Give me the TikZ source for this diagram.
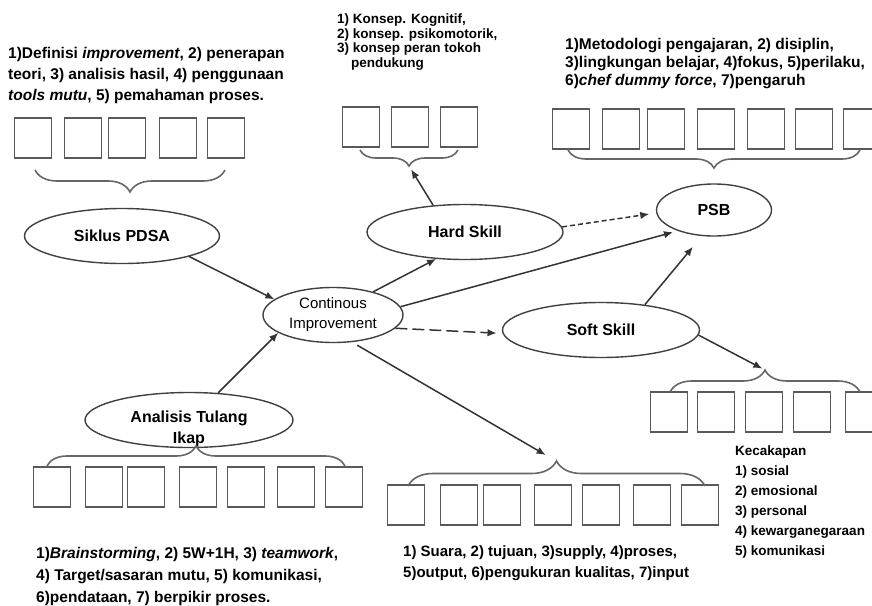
\documentclass[tikz,border=0pt]{standalone}
\usepackage{fontspec}
\setmainfont{Liberation Sans}
\usetikzlibrary{shapes.geometric,decorations.pathreplacing,arrows.meta}

\begin{document}
\begin{tikzpicture}[x=1pt,y=-1pt,
	elips/.style={draw=black!75,line width=1.4pt,ellipse,inner sep=0pt,font=\fontsize{16}{20}\selectfont\bfseries},
	kotak/.style={draw=black!65,line width=1.4pt,minimum width=37pt,minimum height=40pt,inner sep=0pt},
	kurung/.style={draw=black!60,line width=1.6pt,decorate,decoration={brace,amplitude=#1}},
	panah/.style={-{Latex[length=9pt,width=7.5pt]},draw=black!80,line width=1.5pt},
	teks/.style={anchor=north west,inner sep=0pt,align=left,font=\fontsize{15.5}{21}\selectfont\bfseries}]
		\useasboundingbox (0,0) rectangle (872,605);

		% ellipses
		\node[elips,minimum width=195pt,minimum height=55pt] (pdsa) at (122,236) {Siklus PDSA};
		\node[elips,minimum width=140pt,minimum height=55pt,font=\fontsize{15}{20}\selectfont,align=center] (ci) at (333,315) {Continous\\Improvement};
		\node[elips,minimum width=196pt,minimum height=55pt] (hard) at (465,232) {Hard Skill};
		\node[elips,minimum width=115pt,minimum height=52pt] (psb) at (714,210) {PSB};
		\node[elips,minimum width=197pt,minimum height=55pt] (soft) at (601,330) {Soft Skill};
		\node[elips,minimum width=208pt,minimum height=55pt] (tulang) at (189,420) {};
		\node[align=center,inner sep=0pt,font=\fontsize{16}{21}\selectfont\bfseries] (tulangteks) at (189,429) {Analisis Tulang\\Ikap};

		% boxes
		\foreach \x [count=\i] in {33,83,127,178,226}
			\node[kotak] (tl\i) at (\x,138) {};
		\foreach \x [count=\i] in {361,410,459}
			\node[kotak] (hs\i) at (\x,127) {};
		\foreach \x [count=\i] in {571,621,666,716,766,814,862}
			\node[kotak] (pb\i) at (\x,129) {};
		\foreach \x [count=\i] in {669,716,764,812,864}
			\node[kotak] (ss\i) at (\x,412) {};
		\foreach \x [count=\i] in {52,104,146,198,246,296,344}
			\node[kotak] (at\i) at (\x,487) {};
		\foreach \x [count=\i] in {406,459,502,553,601,652,700}
			\node[kotak] (ci\i) at (\x,505) {};

		% braces
		\draw[kurung=22pt] (225,170) -- (35,170);
		\draw[kurung=16pt] (458,150) -- (360,150);
		\draw[kurung=18pt] (860,150) -- (568,150);
		\draw[kurung=22pt] (670,392) -- (860,392);
		\draw[kurung=20pt] (47,466) -- (345,466);
		\draw[kurung=25pt] (408,486) -- (705,486);
		\coordinate (hstip) at (409,166);
		\coordinate (sstip) at (765,370);
		\coordinate (citip) at (556,461);

		% arrows
		\draw[panah] (pdsa.-17) -- (ci.165);
		\draw[panah] (tulang.43) -- (ci.198);
		\draw[panah] (ci.30) -- (hard.223);
		\draw[panah,shorten >=4pt] (hard.140) -- (hstip);
		\draw[panah,dash pattern=on 5pt off 3pt,shorten >=7pt] (hard.3) -- (psb.183);
		\draw[panah,shorten >=5pt] (ci.7) -- (psb.210);
		\draw[panah,dash pattern=on 12pt off 5pt,shorten >=6pt] (ci.-12) -- (soft.182);
		\draw[panah,shorten >=14pt] (soft.30) -- (psb.245);
		\draw[panah,shorten >=3pt] (soft.-3) -- (sstip);
		\draw[panah,shorten <=6pt,shorten >=12pt] (ci.-55) -- (citip);

		% texts
		\node[teks] (tkpdsa) at (8,47) {1)Definisi \textit{improvement}, 2) penerapan\\teori, 3) analisis hasil, 4) penggunaan\\\textit{tools mutu}, 5) pemahaman proses.};
		\node[teks,font=\fontsize{13.5}{14.5}\selectfont\bfseries] (tkhard) at (337,14) {1) Konsep. Kognitif,\\2) konsep. psikomotorik,\\3) konsep peran tokoh\\\hspace*{14pt}pendukung};
		\node[teks,font=\fontsize{15.5}{18}\selectfont\bfseries] (tkpsb) at (565,38) {1)Metodologi pengajaran, 2) disiplin,\\3)lingkungan belajar, 4)fokus, 5)perilaku,\\6)\textit{chef dummy force}, 7)pengaruh};
		\node[teks,font=\fontsize{15.5}{22}\selectfont\bfseries] (tktulang) at (36,547) {1)\textit{Brainstorming}, 2) 5W+1H, 3) \textit{teamwork},\\4) Target/sasaran mutu, 5) komunikasi,\\6)pendataan, 7) berpikir proses.};
		\node[teks,font=\fontsize{15}{21}\selectfont\bfseries] (tkci) at (403,545) {1) Suara, 2) tujuan, 3)supply, 4)proses,\\5)output, 6)pengukuran kualitas, 7)input};
		\node[teks,font=\fontsize{13.5}{20}\selectfont\bfseries] (tksoft) at (735,446) {Kecakapan\\1) sosial\\2) emosional\\3) personal\\4) kewarganegaraan\\5) komunikasi};
	\end{tikzpicture}
\end{document}
